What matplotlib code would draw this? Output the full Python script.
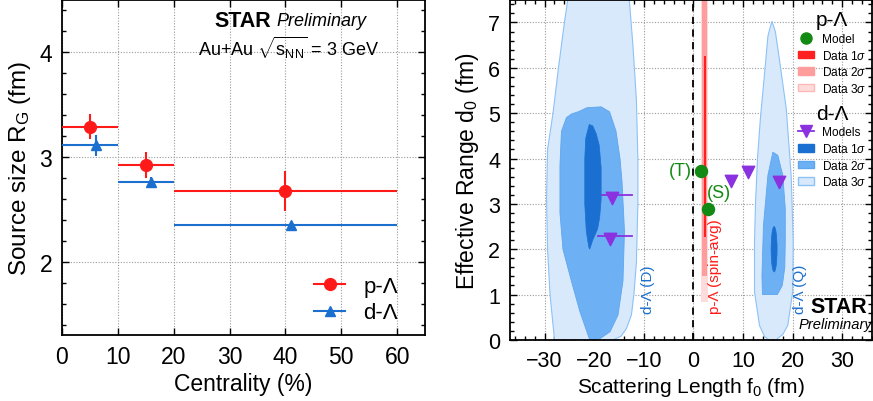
import matplotlib
matplotlib.use('Agg')
import numpy as np
import matplotlib.pyplot as plt
from matplotlib.patches import Polygon, Ellipse, Rectangle, Patch
from matplotlib.lines import Line2D
from matplotlib.ticker import MultipleLocator

plt.rcParams['font.family'] = ['Liberation Sans', 'DejaVu Sans']
plt.rcParams['mathtext.fontset'] = 'custom'
plt.rcParams['mathtext.rm'] = 'Liberation Sans'
plt.rcParams['mathtext.it'] = 'Liberation Sans:italic'
plt.rcParams['mathtext.bf'] = 'Liberation Sans:bold'

# ---- left panel data : source size vs centrality
bin_lo = np.array([0, 10, 20])
bin_hi = np.array([10, 20, 60])
pL_x = np.array([5, 15, 40])
pL_R = np.array([3.29, 2.92, 2.675])
pL_err = np.array([0.12, 0.125, 0.19])
dL_x = np.array([6, 16, 41])
dL_R = np.array([3.11, 2.76, 2.35])
dL_err = np.array([0.10, 0.05, 0.03])

# ---- right panel data : f0 vs d0 contours
dD_1s = [(-21.0, 4.75), (-21.7, 4.45), (-21.9, 4.0), (-21.9, 3.0), (-21.6, 2.4),
         (-21.1, 2.05), (-20.9, 2.0), (-20.3, 2.2), (-19.3, 2.45), (-18.9, 2.7),
         (-18.6, 3.1), (-18.6, 3.8), (-19.0, 4.3), (-19.6, 4.55), (-20.3, 4.72)]
dD_2s = [(-20.9, 0.0), (-22.9, 0.63), (-24.6, 1.3), (-26.3, 2.0), (-26.9, 2.8),
         (-26.9, 3.85), (-26.6, 4.6), (-25.6, 4.9), (-24.6, 4.98), (-23.0, 5.04),
         (-21.5, 5.12), (-18.6, 5.14), (-16.9, 5.03), (-15.6, 4.6), (-14.8, 4.0),
         (-14.4, 3.5), (-13.9, 2.4), (-14.2, 1.3), (-15.2, 0.55), (-16.8, 0.18),
         (-18.8, 0.03)]
dD_3s = [(-28.0, 0.0), (-28.9, 1.0), (-29.4, 2.0), (-29.6, 3.1), (-29.4, 4.2),
         (-28.3, 5.0), (-27.2, 6.0), (-26.0, 7.0), (-25.2, 7.6), (-13.0, 7.6),
         (-12.2, 6.5), (-11.5, 5.3), (-11.2, 4.0), (-11.2, 3.0), (-11.5, 1.7),
         (-12.0, 1.0), (-12.5, 0.55), (-13.5, 0.25), (-14.6, 0.08), (-16.2, 0.0)]
dQ_1s = (16.25, 2.0, 1.2, 1.0)   # centre f0, centre d0, width, height
dQ_2s = [(16.0, 4.14), (15.0, 3.63), (14.1, 2.52), (13.8, 1.42), (13.9, 1.0),
         (16.9, 1.0), (17.9, 1.2), (18.4, 1.6), (18.5, 2.16), (18.5, 2.9),
         (18.0, 3.63), (17.0, 4.07)]
dQ_3s = [(15.8, 7.03), (15.0, 6.7), (14.3, 5.84), (13.5, 4.9), (12.9, 4.0),
         (12.5, 3.0), (12.3, 2.16), (12.3, 1.06), (13.3, 0.32), (14.3, 0.08),
         (15.1, 0.0), (16.6, 0.0), (18.0, 0.12), (19.0, 0.32), (20.0, 1.06),
         (20.1, 2.16), (19.7, 3.6), (18.7, 5.1), (17.3, 6.2), (16.5, 6.8)]
# p-Lambda band : f0 low, f0 high, d0 low, d0 high
pL_band = {'3s': (1.6, 2.9, 0.83, 7.6), '2s': (1.8, 2.7, 1.42, 7.6), '1s': (2.1, 2.5, 2.27, 6.25)}

pL_model_f0 = [1.6, 2.85]
pL_model_d0 = [3.73, 2.88]
pL_model_lab = ['(T)', '(S)']
dL_model_f0 = [-16.4, -16.9, 7.6, 10.9, 17.3]
dL_model_d0 = [3.19, 2.29, 3.57, 3.76, 3.55]
dL_model_lo = [-18.4, -19.2, 7.6, 10.9, 17.3]
dL_model_hi = [-12.4, -12.4, 7.6, 10.9, 17.3]

red = '#ff1a1a'
blue = '#1a6fcf'
red1, red2, red3 = '#ff2020', '#ff9c9c', '#ffdcdc'
blu1, blu2, blu3 = '#1b6fd0', '#6db0f4', '#d8e9fc'
green = '#138a13'
purple = '#8a32e0'

fig = plt.figure(figsize=(8.73, 4.02), dpi=100)
ax1 = fig.add_axes([0.071, 0.164, 0.416, 0.834])
ax2 = fig.add_axes([0.584, 0.152, 0.415, 0.846])

# ---------------- left
ax1.errorbar(pL_x, pL_R, xerr=[pL_x - bin_lo, bin_hi - pL_x], yerr=pL_err,
             fmt='o', color=red, ms=8.5, lw=1.5, capsize=0, zorder=3)
ax1.errorbar(dL_x, dL_R, xerr=[dL_x - bin_lo, bin_hi - dL_x], yerr=dL_err,
             fmt='^', color=blue, ms=7.5, lw=1.5, capsize=0, zorder=3)
ax1.set_xlim(0, 65)
ax1.set_ylim(1.3, 4.5)
ax1.xaxis.set_major_locator(MultipleLocator(10))
ax1.yaxis.set_major_locator(MultipleLocator(1))
ax1.yaxis.set_minor_locator(MultipleLocator(0.2))
ax1.set_xlabel('Centrality (%)', fontsize=16.5, labelpad=3)
ax1.set_ylabel(r'Source size R$_{\rm G}$ (fm)', fontsize=17.5, labelpad=5)
ax1.text(37.5, 4.30, 'STAR', fontsize=15.5, fontweight='bold', ha='right', va='center')
ax1.text(38.3, 4.30, 'Preliminary', fontsize=13, style='italic', ha='left', va='center')
ax1.text(40.6, 4.05, r'Au+Au $\sqrt{\mathrm{s}_{\rm NN}}$ = 3 GeV', fontsize=13, ha='center', va='center')
hL = [Line2D([], [], color=red, marker='o', ms=8.5, lw=1.5),
      Line2D([], [], color=blue, marker='^', ms=7.5, lw=1.5)]
ax1.legend(hL, ['p-Λ', 'd-Λ'], loc='lower right', bbox_to_anchor=(0.98, -0.025),
           frameon=False, fontsize=16, handlelength=1.4, handletextpad=0.8, labelspacing=0.25)

# ---------------- right
ax2.add_patch(Polygon(dD_3s, closed=True, fc=blu3, ec='#8cc2f6', lw=0.8))
ax2.add_patch(Polygon(dD_2s, closed=True, fc=blu2, ec='#5fa6f0', lw=0.6))
ax2.add_patch(Polygon(dD_1s, closed=True, fc=blu1, ec=blu1, lw=0.5))
ax2.add_patch(Polygon(dQ_3s, closed=True, fc=blu3, ec='#8cc2f6', lw=0.8))
ax2.add_patch(Polygon(dQ_2s, closed=True, fc=blu2, ec='#5fa6f0', lw=0.6))
ax2.add_patch(Ellipse(dQ_1s[:2], dQ_1s[2], dQ_1s[3], fc=blu1, ec=blu1, lw=0.5))
for key, col in (('3s', red3), ('2s', red2), ('1s', red1)):
    x0, x1, y0, y1 = pL_band[key]
    ax2.add_patch(Rectangle((x0, y0), x1 - x0, y1 - y0, fc=col, ec='none'))

ax2.axvline(0, color='black', ls=(0, (4, 3)), lw=1.3, zorder=2)

ax2.scatter(pL_model_f0, pL_model_d0, s=75, color=green, zorder=4)
ax2.text(pL_model_f0[0] - 2.0, pL_model_d0[0], pL_model_lab[0], color=green,
         fontsize=13, ha='right', va='center')
ax2.text(pL_model_f0[1] + 2.3, pL_model_d0[1] + 0.38, pL_model_lab[1], color=green,
         fontsize=13, ha='center', va='center')

for f, d, lo, hi in zip(dL_model_f0, dL_model_d0, dL_model_lo, dL_model_hi):
    if hi > lo:
        ax2.plot([lo, hi], [d, d], color=purple, lw=1.3, zorder=4)
ax2.scatter(dL_model_f0, np.array(dL_model_d0) - 0.06, marker='v', s=80,
            color=purple, zorder=5)

ax2.text(-9.1, 0.6, 'd-Λ (D)', color=blue, fontsize=11, rotation=90, ha='center', va='bottom')
ax2.text(4.4, 0.6, 'p-Λ (spin-avg)', color=red, fontsize=11, rotation=90, ha='center', va='bottom')
ax2.text(21.5, 0.6, 'd-Λ (Q)', color=blue, fontsize=11, rotation=90, ha='center', va='bottom')
ax2.text(23.6, 0.73, 'STAR', fontsize=15.5, fontweight='bold', ha='left', va='center')
ax2.text(21.2, 0.36, 'Preliminary', fontsize=10.6, style='italic', ha='left', va='center')

h1 = [Line2D([], [], ls='none', marker='o', color=green, ms=8),
      Patch(fc=red1, ec=red1), Patch(fc=red2, ec=red2), Patch(fc=red3, ec='#ffb8b8')]
l1 = ['Model', r'Data 1$\sigma$', r'Data 2$\sigma$', r'Data 3$\sigma$']
h2 = [Line2D([], [], ls='-', marker='v', color=purple, ms=8, lw=1.3),
      Patch(fc=blu1, ec=blu1), Patch(fc=blu2, ec='#5fa6f0'), Patch(fc=blu3, ec='#8cc2f6')]
l2 = ['Models', r'Data 1$\sigma$', r'Data 2$\sigma$', r'Data 3$\sigma$']
legA = ax2.legend(h1, l1, title='p-Λ', loc='upper right', bbox_to_anchor=(1.003, 0.99),
                  frameon=False, fontsize=8.6, title_fontsize=15, handlelength=1.35,
                  handleheight=0.6, handletextpad=0.6, labelspacing=0.3, borderpad=0.1)
ax2.add_artist(legA)
ax2.legend(h2, l2, title='d-Λ', loc='upper right', bbox_to_anchor=(1.003, 0.715),
           frameon=False, fontsize=8.6, title_fontsize=15, handlelength=1.35,
           handleheight=0.6, handletextpad=0.6, labelspacing=0.3, borderpad=0.1)

ax2.set_xlim(-37, 36)
ax2.set_ylim(0, 7.5)
ax2.xaxis.set_major_locator(MultipleLocator(10))
ax2.xaxis.set_minor_locator(MultipleLocator(2))
ax2.yaxis.set_major_locator(MultipleLocator(1))
ax2.yaxis.set_minor_locator(MultipleLocator(0.2))
ax2.set_xlabel(r'Scattering Length f$_0$ (fm)', fontsize=15, labelpad=3)
ax2.set_ylabel(r'Effective Range d$_0$ (fm)', fontsize=16.5, labelpad=5)

for ax in (ax1, ax2):
    ax.set_axisbelow(True)
    ax.grid(True, which='major', color='#9a9a9a', ls=(0, (1, 1.5)), lw=0.8)
    ax.tick_params(which='both', direction='in', top=True, right=True, width=1)
    ax.tick_params(which='major', length=5, pad=7)
    ax.tick_params(which='minor', length=3)
    for s in ax.spines.values():
        s.set_linewidth(1.3)
ax1.tick_params(labelsize=16.5)
ax2.tick_params(labelsize=15.5)

fig.savefig('out.png', dpi=100)
